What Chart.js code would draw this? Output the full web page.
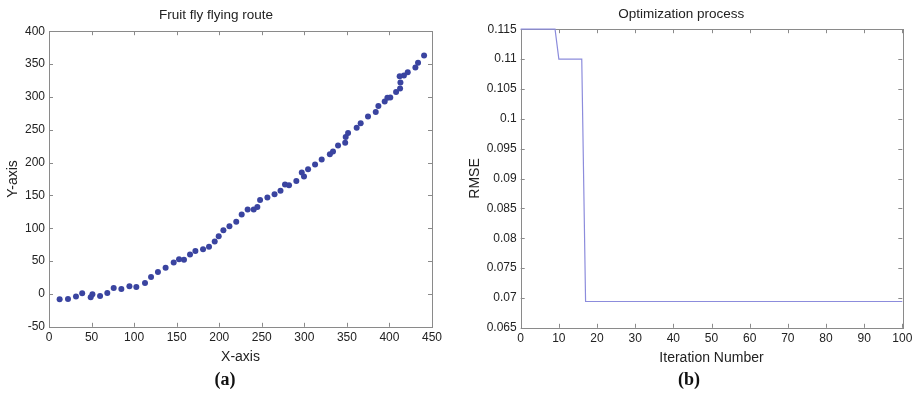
<!DOCTYPE html>
<html>
<head>
<meta charset="utf-8">
<script src="https://cdn.jsdelivr.net/npm/chart.js@4.4.0/dist/chart.umd.min.js"></script>
<style>
    body { margin: 0; width: 914px; height: 396px; overflow: hidden; background: #fff; position: relative; }
    canvas { position: absolute; top: 0; }
    .lab { position: absolute; top: 369px; width: 60px; text-align: center; font: bold 18px "Liberation Serif", "Times New Roman", serif; color: #111; }
</style>
</head>
<body>
<canvas id="routeChart" width="481" height="396" style="left:0"></canvas>
<canvas id="rmseChart" width="503" height="396" style="left:460px"></canvas>
<div class="lab" style="left:195px">(a)</div>
<div class="lab" style="left:659px">(b)</div>
<script>
// Rota da mosca
var routeX = [12.5, 22.3, 31.7, 39, 49, 51, 60, 68.5, 76, 85, 94.5, 102.6, 112.8, 119.9, 128, 137, 146.5, 152.8, 158.6, 165.7,
    172, 181, 188, 194.7, 199.4, 204.9, 212, 220, 226.4, 233.4, 240.5, 244.8, 248, 256.6, 265, 272, 277.3, 282, 290.6, 297,
    299.6, 304.4, 312.6, 320.4, 330, 333.7, 339.6, 348, 348.6, 351.4, 361.5, 366.2, 374.8, 383.9, 387, 394.4, 397.6, 401, 407.8, 412.5,
    412.9, 412, 417, 421.5, 430.5, 433.6, 440.7];
var routeY = [-8, -7.6, -4, 1, -5, -0.5, -3, 1.5, 9, 7.6, 11.7, 10.7, 16.8, 25.9, 33.5, 40, 48, 53, 52, 60,
    65.5, 68, 72, 79.7, 87.8, 97, 103, 110, 121, 128.4, 128.4, 132.5, 143, 146.7, 151.8, 157, 166.5, 165.5, 172, 185,
    178.7, 190, 197, 204.6, 212.7, 216.8, 226, 230, 239, 245, 253, 260, 270, 277, 286, 293, 298.5, 299, 307.6, 312.7,
    322, 331.5, 332.5, 337.6, 344.7, 351.8, 363];

// Processo de otimização (RMSE por iteração)
var iterX = [0, 9, 10, 16, 17, 100];
var rmseY = [0.115, 0.115, 0.110, 0.110, 0.0694, 0.0694];

var tickFont = { family: 'Liberation Sans, Arial, sans-serif', size: 12 };
var labelFont = { family: 'Liberation Sans, Arial, sans-serif', size: 14 };
var titleFont = { family: 'Liberation Sans, Arial, sans-serif', size: 13.5, weight: 'normal' };

// Caixa e marcas internas estilo MATLAB (desenhada antes dos dados)
var matlabBox = {
    id: 'matlabBox',
    beforeDatasetsDraw: function (chart) {
        var ctx = chart.ctx, a = chart.chartArea;
        var xs = chart.scales.x, ys = chart.scales.y;
        ctx.save();
        ctx.strokeStyle = '#8a8a8a';
        ctx.lineWidth = 1;
        ctx.strokeRect(Math.round(a.left) + 0.5, Math.round(a.top) + 0.5, Math.round(a.right - a.left), Math.round(a.bottom - a.top));
        ctx.beginPath();
        xs.ticks.forEach(function (t) {
            var px = Math.round(xs.getPixelForValue(t.value)) + 0.5;
            ctx.moveTo(px, a.bottom); ctx.lineTo(px, a.bottom - 4);
            ctx.moveTo(px, a.top); ctx.lineTo(px, a.top + 4);
        });
        ys.ticks.forEach(function (t) {
            var py = Math.round(ys.getPixelForValue(t.value)) + 0.5;
            ctx.moveTo(a.left, py); ctx.lineTo(a.left + 4, py);
            ctx.moveTo(a.right, py); ctx.lineTo(a.right - 4, py);
        });
        ctx.stroke();
        ctx.restore();
    }
};

function axisOpts(min, max, step, title, titlePad, fitWidth, cb) {
    return {
        type: 'linear',
        min: min, max: max,
        grid: { display: false, drawTicks: false },
        border: { display: false },
        ticks: { stepSize: step, color: '#222', font: tickFont, padding: 4, callback: cb },
        title: { display: true, text: title, color: '#222', font: labelFont, padding: { top: titlePad, bottom: 0 } },
        afterFit: function (scale) {
            if (fitWidth) scale.width = fitWidth;
        }
    };
}

new Chart(document.getElementById('routeChart').getContext('2d'), {
    type: 'scatter',
    data: {
        datasets: [{
            data: routeX.map(function (x, i) { return { x: x, y: routeY[i] }; }),
            backgroundColor: '#3a44a0',
            borderColor: '#3a44a0',
            pointRadius: 3,
            pointBorderWidth: 0
        }]
    },
    options: {
        responsive: false,
        animation: false,
        layout: { padding: { left: 0, right: 49, top: 0, bottom: 30 } },
        plugins: {
            legend: { display: false },
            tooltip: { enabled: false },
            title: { display: true, text: 'Fruit fly flying route', color: '#222', font: titleFont, padding: { top: 7, bottom: 8 } }
        },
        scales: {
            x: axisOpts(0, 450, 50, 'X-axis', 0, 0),
            y: axisOpts(-50, 400, 50, 'Y-axis', 5, 49)
        }
    },
    plugins: [matlabBox]
});

new Chart(document.getElementById('rmseChart').getContext('2d'), {
    type: 'line',
    data: {
        datasets: [{
            data: iterX.map(function (x, i) { return { x: x, y: rmseY[i] }; }),
            borderColor: '#8c8cdc',
            borderWidth: 1.2,
            pointRadius: 0,
            fill: false,
            clip: 3
        }]
    },
    options: {
        responsive: false,
        animation: false,
        layout: { padding: { left: 0, right: 60.7, top: 0, bottom: 29 } },
        plugins: {
            legend: { display: false },
            tooltip: { enabled: false },
            title: { display: true, text: 'Optimization process', color: '#222', font: titleFont, padding: { top: 6, bottom: 7 } }
        },
        scales: {
            x: axisOpts(0, 100, 10, 'Iteration Number', 0, 0),
            y: axisOpts(0.065, 0.115, 0.005, 'RMSE', 7, 60.7, function (v) { return String(+v.toFixed(3)); })
        }
    },
    plugins: [matlabBox]
});
</script>
</body>
</html>
